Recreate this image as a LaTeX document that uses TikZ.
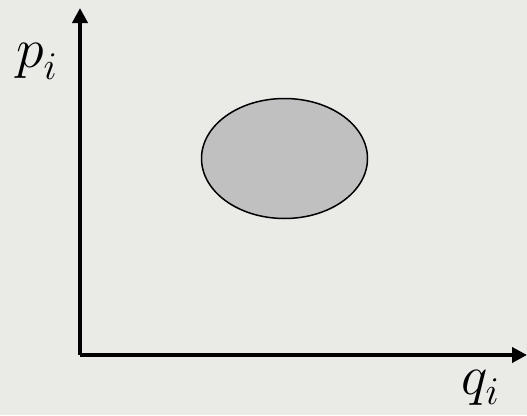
\RequirePackage{fix-cm}
\documentclass[tikz,border=0pt]{standalone}
\usetikzlibrary{arrows.meta,shapes.geometric}
\definecolor{bgc}{RGB}{234,234,231}
\definecolor{blobc}{RGB}{192,192,192}
\tikzset{
  axis/.style={line width=4pt, -{Triangle[length=15pt,width=15pt]}},
  lbl/.style={inner sep=0pt, anchor=base west, font=\fontsize{56}{56}\selectfont}
}
\begin{document}
\begin{tikzpicture}[x=1pt,y=-1pt]
\fill[bgc] (0,0) rectangle (527,415);
\useasboundingbox (0,0) rectangle (527,415);
\coordinate (O) at (80,355);
\coordinate (Ytop) at (80,8);
\coordinate (Xend) at (527,355);
\draw[axis] (O) -- (Ytop);
\draw[axis] (O) -- (Xend);
\node[draw=black, line width=1.5pt, fill=blobc, ellipse, minimum width=166pt, minimum height=120pt, inner sep=0pt] (blob) at (284.5,158.5) {};
\node[lbl] (p) at (16,67) {$p_{\raisebox{-4pt}{$\scriptstyle i$}}$};
\node[lbl] (q) at (461,394) {$q_{\raisebox{-2pt}{$\scriptstyle i$}}$};
\end{tikzpicture}
\end{document}
